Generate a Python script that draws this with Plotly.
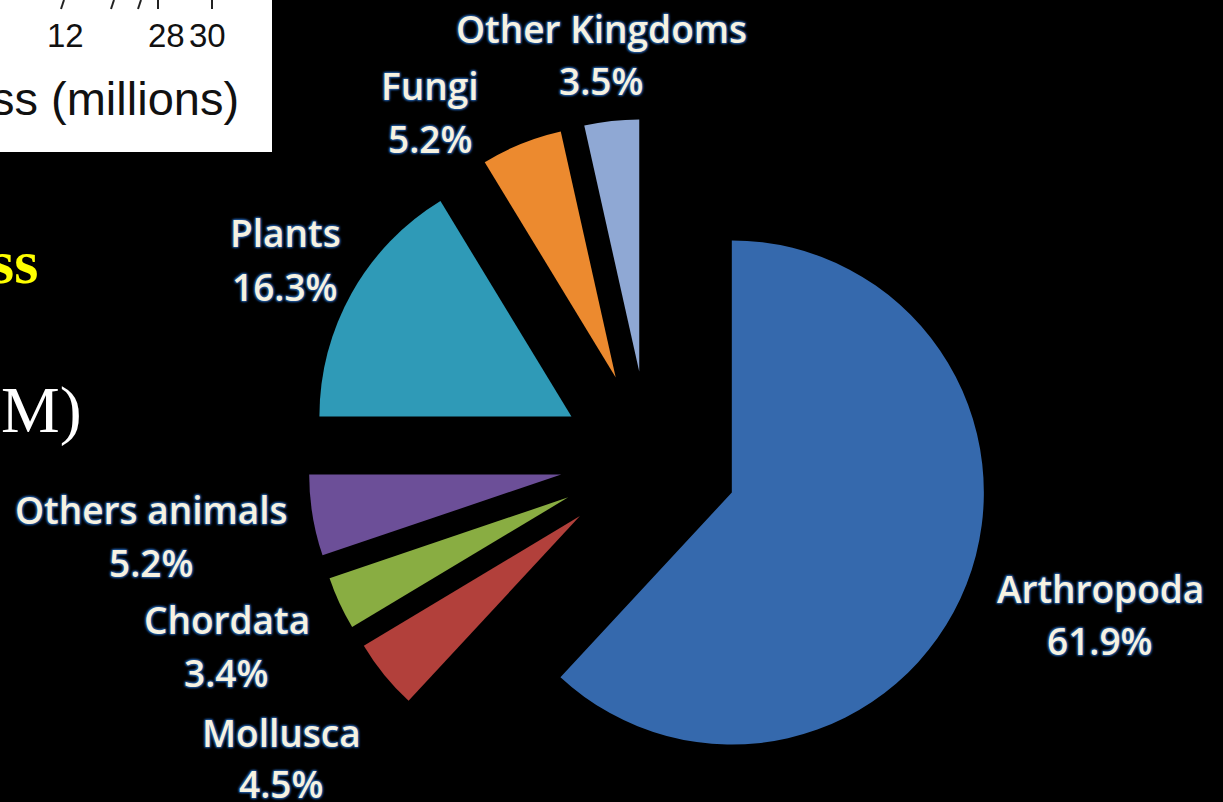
import plotly.graph_objects as go

# Share of described species by group (percent)
groups = ["Arthropoda", "Mollusca", "Chordata", "Others animals",
          "Plants", "Fungi", "Other Kingdoms"]
shares = [61.9, 4.5, 3.4, 5.2, 16.3, 5.2, 3.5]
slice_colors = ["#3569ad", "#b2403b", "#89ad42", "#6c4f98",
                "#2f9ab7", "#ec8a2f", "#8fa8d4"]

# Partial axis labels of the inset chart
inset_ticks = ["12", "28", "30"]
inset_title = "ss (millions)"

W, H = 1223, 802


def px(x, y):
    """Pixel position -> paper coordinates."""
    return x / W, 1 - y / H


# Pie geometry (pixels)
cx, cy, half = 649, 460, 341
pull = 0.353

fig = go.Figure(go.Pie(
    labels=groups,
    values=shares,
    sort=False,
    direction="clockwise",
    rotation=0,
    pull=[pull] * len(groups),
    marker=dict(colors=slice_colors, line=dict(width=0)),
    textinfo="none",
    hoverinfo="label+percent",
    showlegend=False,
    domain=dict(x=[(cx - half) / W, (cx + half) / W],
                y=[(H - (cy + half)) / H, (H - (cy - half)) / H]),
))

label_font = dict(family="'Open Sans', Lato, sans-serif", size=37,
                  color="#f6f2e2", weight=600,
                  shadow="1px 1px 2px #1d4f8f, -1px -1px 2px #1d4f8f, "
                         "1px -1px 2px #1d4f8f, -1px 1px 2px #1d4f8f")

# Label centres (pixels): name line, percent line
label_pos = {
    "Arthropoda": ((1100, 588), (1100, 640)),
    "Mollusca": ((281, 732), (281, 783)),
    "Chordata": ((227, 619), (226, 672)),
    "Others animals": ((151, 509), (151, 562)),
    "Plants": ((285, 233), (285, 286)),
    "Fungi": ((430, 86), (430, 138)),
    "Other Kingdoms": ((601, 28), (601, 80)),
}

annotations = []
for g, v in zip(groups, shares):
    (nx, ny), (vx, vy) = label_pos[g]
    for text, (x, y) in ((g, (nx, ny)), (f"{v:.1f}%", (vx, vy))):
        ax, ay = px(x, y)
        annotations.append(dict(
            x=ax, y=ay, xref="paper", yref="paper", text=text,
            showarrow=False, xanchor="center", yanchor="middle",
            font=label_font))

# Inset chart fragment (white box, top-left)
sans = "Liberation Sans, Arial, sans-serif"
for t, x in zip(inset_ticks, [65, 166, 207]):
    ax, ay = px(x, 36)
    annotations.append(dict(x=ax, y=ay, xref="paper", yref="paper", text=t,
                            showarrow=False, xanchor="center", yanchor="middle",
                            font=dict(family=sans, size=33, color="#111111")))
ax, ay = px(241, 98)
annotations.append(dict(x=ax, y=ay, xref="paper", yref="paper", text=inset_title,
                        showarrow=False, xanchor="right", yanchor="middle",
                        font=dict(family=sans, size=47, color="#111111")))

# Slide text fragments on the left
ax, ay = px(40, 262)
annotations.append(dict(x=ax, y=ay, xref="paper", yref="paper", text="<b>ss</b>",
                        showarrow=False, xanchor="right", yanchor="middle",
                        font=dict(family="Liberation Serif, serif", size=62,
                                  color="#ffff00")))
ax, ay = px(84, 410)
annotations.append(dict(x=ax, y=ay, xref="paper", yref="paper", text="M)",
                        showarrow=False, xanchor="right", yanchor="middle",
                        font=dict(family="Liberation Serif, serif", size=66,
                                  color="#ffffff")))

shapes = [dict(type="rect", xref="paper", yref="paper",
               x0=-0.01, x1=272 / W, y0=1 - 152 / H, y1=1.01,
               fillcolor="#ffffff", line=dict(width=0), layer="below")]
# tick stubs cut off at the top of the inset
for x0, x1 in [(64, 61), (114, 111), (141, 138), (158, 158), (212, 212)]:
    shapes.append(dict(type="line", xref="paper", yref="paper",
                       x0=x0 / W, x1=x1 / W, y0=1.0, y1=1 - 9 / H,
                       line=dict(color="#222222", width=2)))

fig.update_layout(
    width=W, height=H,
    margin=dict(l=0, r=0, t=0, b=0),
    paper_bgcolor="#000000",
    plot_bgcolor="#000000",
    annotations=annotations,
    shapes=shapes,
)

fig.write_html("out.html")
